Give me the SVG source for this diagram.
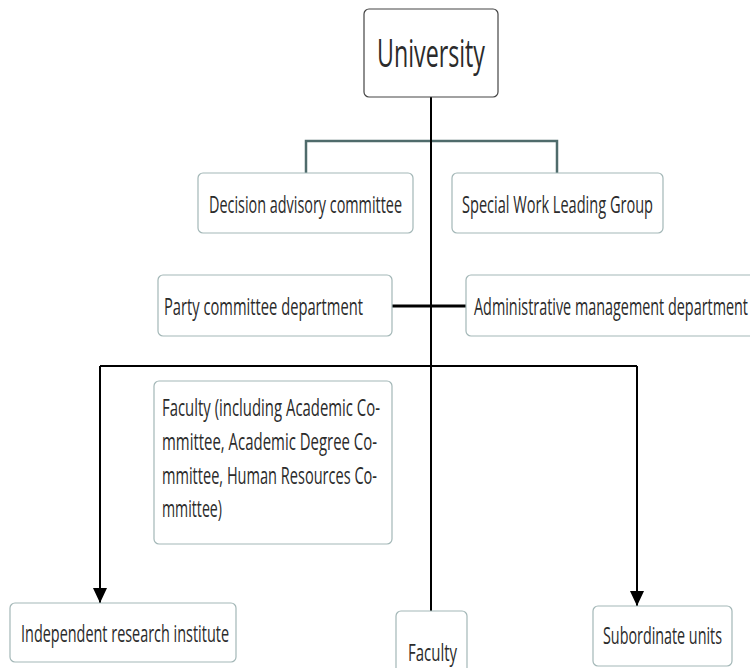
<svg xmlns="http://www.w3.org/2000/svg" width="750" height="668" viewBox="0 0 750 668">
<style>
.box{fill:#fff;stroke:#a3b7b7;stroke-width:1.2}
.top{fill:#fff;stroke:#444;stroke-width:1.2}
text{font-family:"Open Sans","Noto Sans",sans-serif;fill:#2b2b2b;font-size:23px}
.ln{fill:none;stroke:#000;stroke-width:2}
.tl{fill:none;stroke:#4f6b6b;stroke-width:2.5}
</style>
<defs>
<marker id="ah" markerUnits="userSpaceOnUse" markerWidth="16" markerHeight="14" refX="15" refY="7" orient="auto">
<path d="M0,0 L15,7 L0,14 Z" fill="#000"/>
</marker>
</defs>
<g id="connectors">
<path class="tl" d="M306,173 V141 H557 V173"/>
<path class="ln" d="M431,97 V611"/>
<path class="ln" d="M392,306 H466" style="stroke-width:3"/>
<path class="ln" d="M100,366 H637"/>
<path class="ln" d="M100,366 V603" marker-end="url(#ah)"/>
<path class="ln" d="M637,366 V606" marker-end="url(#ah)"/>
</g>
<g id="university">
<rect class="top" x="364" y="9" width="134" height="88" rx="5"/>
<text x="377" y="67" style="font-size:38px" textLength="108" lengthAdjust="spacingAndGlyphs">University</text>
</g>
<g id="decision">
<rect class="box" x="198" y="173" width="215" height="60" rx="5"/>
<text x="209" y="213" textLength="193" lengthAdjust="spacingAndGlyphs">Decision advisory committee</text>
</g>
<g id="special">
<rect class="box" x="452" y="173" width="211" height="60" rx="5"/>
<text x="462" y="213" textLength="191" lengthAdjust="spacingAndGlyphs">Special Work Leading Group</text>
</g>
<g id="party">
<rect class="box" x="158" y="275" width="234" height="61" rx="5"/>
<text x="164" y="315" textLength="199" lengthAdjust="spacingAndGlyphs">Party committee department</text>
</g>
<g id="admin">
<rect class="box" x="466" y="275" width="300" height="61" rx="5"/>
<text x="474" y="315" textLength="274" lengthAdjust="spacingAndGlyphs">Administrative management department</text>
</g>
<g id="faculty-committees">
<rect class="box" x="154" y="381" width="238" height="163" rx="5"/>
<text x="162" y="416" textLength="218" lengthAdjust="spacingAndGlyphs">Faculty (including Academic Co-</text>
<text x="162" y="450" textLength="215" lengthAdjust="spacingAndGlyphs">mmittee, Academic Degree Co-</text>
<text x="162" y="484" textLength="215" lengthAdjust="spacingAndGlyphs">mmittee, Human Resources Co-</text>
<text x="162" y="517" textLength="60" lengthAdjust="spacingAndGlyphs">mmittee)</text>
</g>
<g id="independent">
<rect class="box" x="10" y="603" width="226" height="59" rx="5"/>
<text x="21" y="642" textLength="208" lengthAdjust="spacingAndGlyphs">Independent research institute</text>
</g>
<g id="faculty">
<rect class="box" x="396" y="611" width="71" height="80" rx="5"/>
<text x="408" y="661" textLength="49" lengthAdjust="spacingAndGlyphs">Faculty</text>
</g>
<g id="subordinate">
<rect class="box" x="593" y="606" width="139" height="60" rx="5"/>
<text x="603" y="644" textLength="119" lengthAdjust="spacingAndGlyphs">Subordinate units</text>
</g>
</svg>
